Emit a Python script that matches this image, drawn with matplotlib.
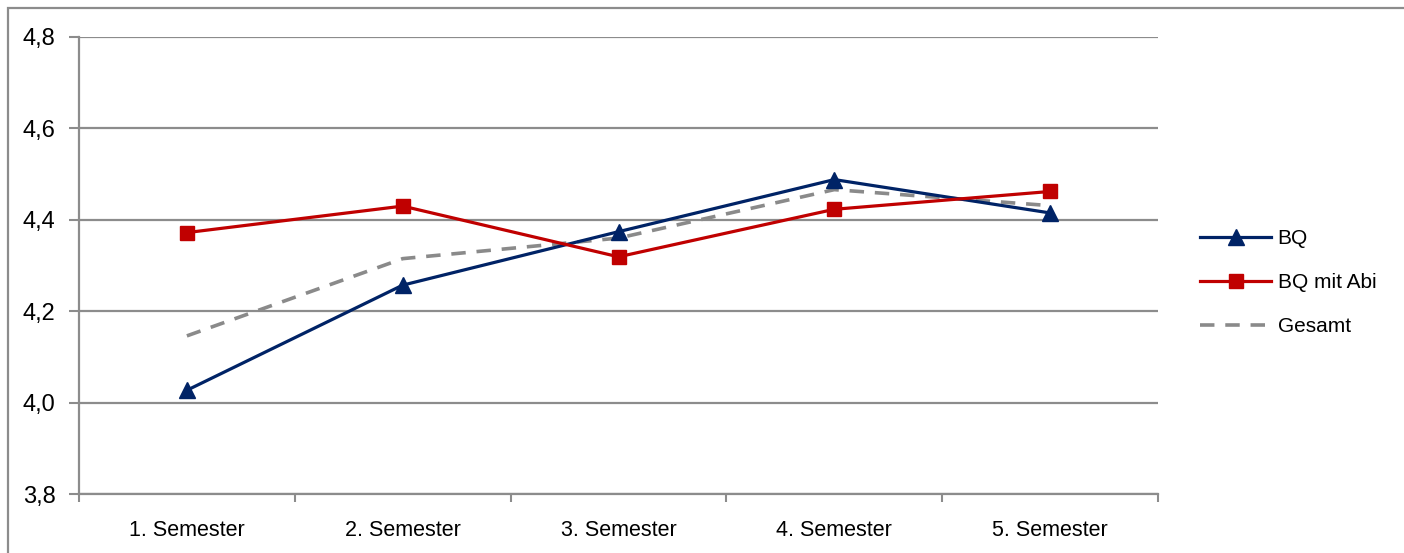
import matplotlib
matplotlib.use("Agg")
import matplotlib.pyplot as plt
from matplotlib.patches import Rectangle
from matplotlib import font_manager

semester = ["1. Semester", "2. Semester", "3. Semester", "4. Semester", "5. Semester"]
bq = [4.027, 4.257, 4.374, 4.488, 4.415]
bq_abi = [4.372, 4.430, 4.319, 4.423, 4.462]
gesamt = [4.146, 4.315, 4.360, 4.466, 4.431]
y_ticks = [3.8, 4.0, 4.2, 4.4, 4.6, 4.8]
y_labels = ["3,8", "4,0", "4,2", "4,4", "4,6", "4,8"]

names = {f.name for f in font_manager.fontManager.ttflist}
fam = "Liberation Sans Narrow" if "Liberation Sans Narrow" in names else "Liberation Sans"
plt.rcParams['font.family'] = [fam, 'DejaVu Sans']

grid_col = "#8c8c8c"

fig = plt.figure(figsize=(14.04, 5.53), dpi=100)
ax = fig.add_axes([79 / 1404, 1 - 494 / 553, (1158 - 79) / 1404, (494 - 37) / 553])

x = list(range(len(semester)))
ax.plot(x, bq, color="#002366", lw=2.3, marker="^", ms=12, label="BQ", zorder=3)
ax.plot(x, bq_abi, color="#c00000", lw=2.3, marker="s", ms=10.5, label="BQ mit Abi", zorder=3)
ax.plot(x, gesamt, color="#8a8a8a", lw=2.6, ls=(0, (4, 3)), label="Gesamt", zorder=2)

ax.set_xlim(-0.5, len(semester) - 0.5)
ax.set_ylim(3.8, 4.8)
ax.set_yticks(y_ticks)
ax.set_yticklabels(y_labels, fontsize=17)
ax.set_xticks(x)
ax.set_xticklabels(semester, fontsize=15.5)
ax.set_xticks([i - 0.5 for i in range(len(semester) + 1)], minor=True)
ax.tick_params(axis="x", which="major", length=0, pad=19)
ax.tick_params(axis="x", which="minor", length=6, width=1.5, color=grid_col, direction="out")
ax.tick_params(axis="y", length=7, width=1.5, color=grid_col, direction="out", pad=10)

ax.yaxis.grid(True, color=grid_col, lw=1.6)
ax.set_axisbelow(True)
for s in ["top", "right"]:
    ax.spines[s].set_visible(False)
for s in ["left", "bottom"]:
    ax.spines[s].set_color(grid_col)
    ax.spines[s].set_linewidth(1.6)

ax.legend(loc="center left", bbox_to_anchor=(1.022, 0.462), frameon=False, fontsize=15,
          handlelength=3.4, handletextpad=0.3, labelspacing=1.2, markerscale=0.95)

fig.patches.append(Rectangle((8 / 1404, -0.1), 1.2, 1 - 8 / 553 + 0.1, transform=fig.transFigure,
                             fill=False, edgecolor=grid_col, lw=1.6))

fig.savefig("out.png", dpi=100)
